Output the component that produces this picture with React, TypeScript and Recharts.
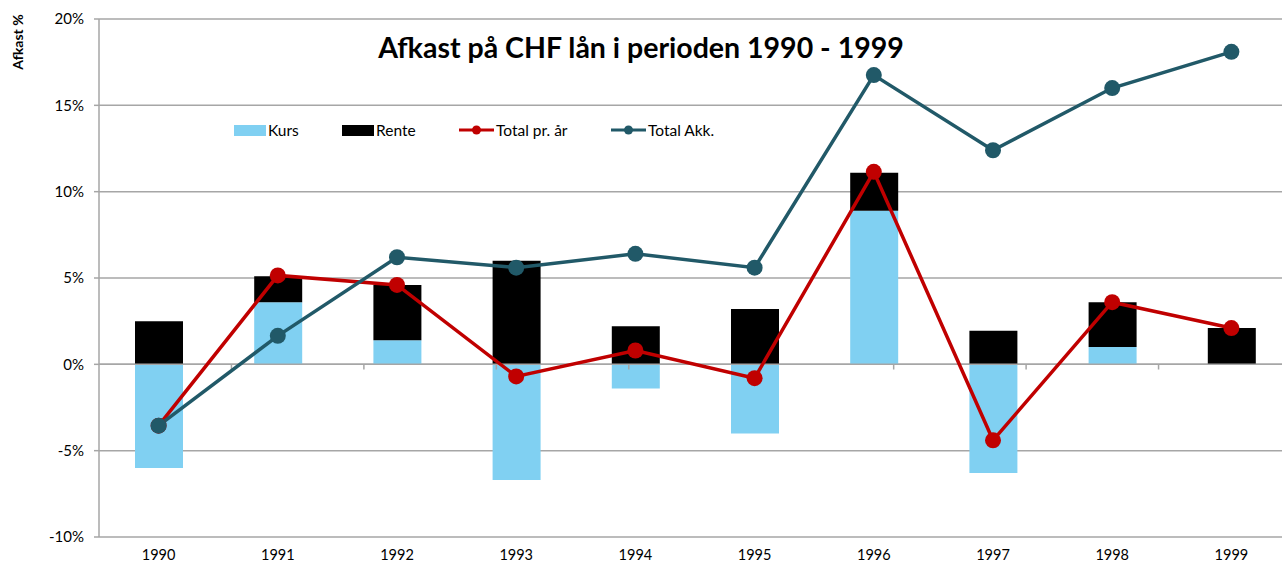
import { ComposedChart, Bar, Line, XAxis, YAxis, CartesianGrid, ReferenceLine } from 'recharts';

const YEARS = ['1990', '1991', '1992', '1993', '1994', '1995', '1996', '1997', '1998', '1999'];
const KURS = [-6.0, 3.6, 1.4, -6.7, -1.4, -4.0, 8.9, -6.3, 1.0, 0];
const RENTE = [2.5, 1.5, 3.2, 6.0, 2.2, 3.2, 2.2, 1.95, 2.6, 2.1];
const TOTAL_AAR = [-3.55, 5.15, 4.6, -0.7, 0.8, -0.8, 11.15, -4.4, 3.6, 2.1];
const TOTAL_AKK = [-3.55, 1.65, 6.2, 5.6, 6.4, 5.6, 16.75, 12.4, 16.0, 18.1];
const Y_TICKS = [-10, -5, 0, 5, 10, 15, 20];
const BOUNDARIES = [1, 2, 3, 4, 5, 6, 7, 8, 9];

const FONT = 'Lato, "Open Sans", sans-serif';
const LIGHT_BLUE = '#80d0f2';
const RED = '#c00000';
const TEAL = '#215968';
const GRID = '#a6a6a6';

const data = YEARS.map((year, i) => ({
  year,
  kurs: KURS[i],
  rente: RENTE[i],
  aar: TOTAL_AAR[i],
  akk: TOTAL_AKK[i],
}));

function LegendBox() {
  const item = (label: string, swatch: any, left: number) => (
    <div key={label} style={{ position: 'absolute', left, top: 0, display: 'flex', alignItems: 'center', height: 20 }}>
      {swatch}
      <span style={{ fontSize: 15.5, color: '#000', marginLeft: 2 }}>{label}</span>
    </div>
  );
  const box = (c: string) => <div style={{ width: 32, height: 11, background: c }} />;
  const ln = (c: string) => (
    <svg width={35} height={12}>
      <line x1={0} y1={6} x2={35} y2={6} stroke={c} strokeWidth={3} />
      <circle cx={17.5} cy={6} r={4.5} fill={c} />
    </svg>
  );
  return (
    <div style={{ position: 'absolute', left: 0, top: 120, width: 1282, height: 20 }}>
      {item('Kurs', box(LIGHT_BLUE), 234)}
      {item('Rente', box('#000'), 342)}
      {item('Total pr. år', ln(RED), 459)}
      {item('Total Akk.', ln(TEAL), 611)}
    </div>
  );
}

export default function App() {
  return (
    <div style={{ position: 'fixed', left: 0, top: 0, width: 1282, height: 565, overflow: 'hidden', background: '#fff', fontFamily: FONT }}>
      <ComposedChart width={1300} height={565} data={data} stackOffset="sign"
                     margin={{ top: 19, right: 9, bottom: 0, left: 0 }}>
        <CartesianGrid vertical={false} stroke={GRID} strokeWidth={1.5} />
        <XAxis dataKey="year" axisLine={false} tickLine={false} height={28} tickMargin={7}
               tick={{ fill: '#000', fontSize: 14.5, fontFamily: FONT }} interval={0} />
        <XAxis xAxisId="b" type="number" domain={[0, 10]} hide />
        <YAxis domain={[-10, 20]} ticks={Y_TICKS} width={99} tickSize={5} tickMargin={10}
               stroke={GRID} strokeWidth={1.5} tickFormatter={(v: number) => `${v}%`}
               tick={{ fill: '#000', fontSize: 15, fontFamily: FONT }} interval={0} />
        <ReferenceLine y={0} stroke={GRID} strokeWidth={1.5} />
        {BOUNDARIES.map(b => (
          <ReferenceLine key={b} xAxisId="b" segment={[{ x: b, y: 0 }, { x: b, y: -0.3 }]}
                         stroke={GRID} strokeWidth={1.5} ifOverflow="visible" />
        ))}
        <Bar dataKey="kurs" name="Kurs" stackId="a" fill={LIGHT_BLUE} barSize={48} isAnimationActive={false} />
        <Bar dataKey="rente" name="Rente" stackId="a" fill="#000" barSize={48} isAnimationActive={false} />
        <Line dataKey="aar" name="Total pr. år" stroke={RED} strokeWidth={3.5}
              dot={{ r: 8, fill: RED, stroke: RED, strokeWidth: 0 }} activeDot={false} isAnimationActive={false} />
        <Line dataKey="akk" name="Total Akk." stroke={TEAL} strokeWidth={3.5}
              dot={{ r: 8, fill: TEAL, stroke: TEAL, strokeWidth: 0 }} activeDot={false} isAnimationActive={false} />
      </ComposedChart>
      <LegendBox />
      <div style={{ position: 'absolute', left: 0, width: 1282, top: 29, textAlign: 'center', fontSize: 28.5, fontWeight: 700, color: '#000', lineHeight: '36px' }}>
        Afkast på CHF lån i perioden 1990 - 1999
      </div>
      <div style={{ position: 'absolute', left: 17, top: 42, transform: 'translate(-50%, -50%) rotate(-90deg)', fontSize: 14, fontWeight: 700, whiteSpace: 'nowrap', color: '#000' }}>
        Afkast %
      </div>
    </div>
  );
}
